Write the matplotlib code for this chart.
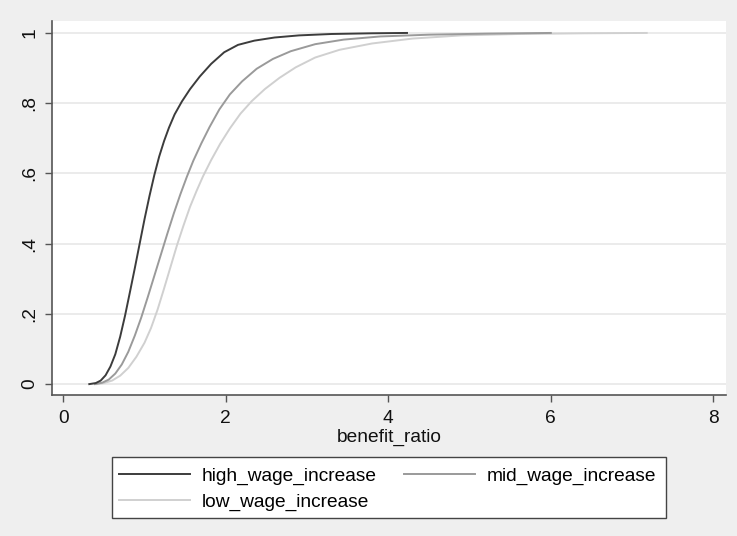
import numpy as np
import matplotlib
matplotlib.use("Agg")
import matplotlib.pyplot as plt
from matplotlib.patches import Rectangle

plt.rcParams['font.family'] = ['Liberation Sans', 'DejaVu Sans']

# cumulative distribution of benefit_ratio
high_x = [0.32, 0.40, 0.46, 0.52, 0.58, 0.64, 0.70, 0.76, 0.82, 0.88, 0.94, 1.00,
          1.06, 1.12, 1.18, 1.24, 1.30, 1.37, 1.46, 1.56, 1.68, 1.82, 1.98, 2.15,
          2.35, 2.60, 2.90, 3.30, 3.80, 4.23]
high_y = [0.000, 0.003, 0.010, 0.025, 0.050, 0.085, 0.135, 0.195, 0.262, 0.330,
          0.400, 0.470, 0.535, 0.595, 0.648, 0.692, 0.730, 0.768, 0.805, 0.840,
          0.876, 0.912, 0.945, 0.966, 0.978, 0.987, 0.993, 0.997, 0.999, 1.000]

mid_x = [0.39, 0.48, 0.56, 0.64, 0.72, 0.80, 0.88, 0.96, 1.04, 1.12, 1.20, 1.28,
         1.36, 1.44, 1.52, 1.60, 1.70, 1.80, 1.92, 2.05, 2.20, 2.38, 2.58, 2.80,
         3.10, 3.45, 3.90, 4.50, 5.20, 6.00]
mid_y = [0.000, 0.004, 0.013, 0.030, 0.056, 0.092, 0.138, 0.190, 0.248, 0.308,
         0.368, 0.428, 0.486, 0.540, 0.590, 0.636, 0.686, 0.732, 0.782, 0.825,
         0.862, 0.898, 0.926, 0.948, 0.968, 0.981, 0.990, 0.995, 0.998, 1.000]

low_x = [0.41, 0.50, 0.60, 0.70, 0.80, 0.90, 1.00, 1.08, 1.16, 1.24, 1.32, 1.40,
         1.48, 1.56, 1.64, 1.72, 1.82, 1.93, 2.05, 2.18, 2.32, 2.48, 2.66, 2.86,
         3.10, 3.40, 3.80, 4.30, 4.90, 5.60, 6.40, 7.18]
low_y = [0.000, 0.003, 0.010, 0.024, 0.046, 0.078, 0.118, 0.160, 0.212, 0.272,
         0.334, 0.396, 0.452, 0.505, 0.550, 0.592, 0.638, 0.684, 0.728, 0.770,
         0.806, 0.840, 0.872, 0.902, 0.930, 0.952, 0.970, 0.984, 0.993, 0.997,
         0.999, 1.000]

series = ["high_wage_increase", "low_wage_increase", "mid_wage_increase"]
xticks = [0, 2, 4, 6, 8]
yticks = [0, 0.2, 0.4, 0.6, 0.8, 1]
ytick_labels = ["0", ".2", ".4", ".6", ".8", "1"]

bg = '#efefef'
fs = 13.8
fig = plt.figure(figsize=(7.37, 5.36), dpi=100, facecolor=bg)
ax = fig.add_axes([52/737, 1 - 395/536, 674/737, 374/536])
ax.set_facecolor('white')

l1, = ax.plot(high_x, high_y, color='#3c3c3c', lw=1.4, zorder=3)
l2, = ax.plot(low_x, low_y, color='#d0d0d0', lw=1.4, zorder=2)
l3, = ax.plot(mid_x, mid_y, color='#9a9a9a', lw=1.4, zorder=2)

ax.set_xlim(-0.139, 8.156)
ax.set_ylim(-0.031, 1.034)
ax.set_xticks(xticks)
ax.set_xticklabels([str(t) for t in xticks])
ax.set_yticks(yticks)
ax.set_yticklabels(ytick_labels, rotation=90, va='center')

ax.grid(axis='y', color='#e8e8e8', lw=1.2, zorder=0)
ax.set_axisbelow(True)
for s in ['top', 'right']:
    ax.spines[s].set_visible(False)
for s in ['left', 'bottom']:
    ax.spines[s].set_color('#555555')
    ax.spines[s].set_linewidth(1.2)
ax.tick_params(direction='out', length=5, width=1.0, color='#555555',
               labelsize=fs, labelcolor='#111111')
ax.tick_params(axis='x', pad=6)
ax.tick_params(axis='y', pad=5)
ax.set_xlabel('benefit_ratio', fontsize=fs, color='#111111', labelpad=1)

# legend box drawn by hand, entries placed inside it
box = Rectangle((111.7/737, 1 - 518/536), 554/737, 61/536,
                transform=fig.transFigure, facecolor='white',
                edgecolor='#444444', lw=1.0, zorder=1)
fig.add_artist(box)
leg = fig.legend([l1, l2, l3], series, loc='upper left',
                 bbox_to_anchor=(119/737, 1 - 467/536), ncol=2, fontsize=fs,
                 handlelength=3.7, handletextpad=0.6, columnspacing=1.45,
                 labelspacing=0.46, borderpad=0, borderaxespad=0,
                 frameon=False)
leg.set_zorder(5)

fig.savefig('out.png', dpi=100, facecolor=bg)
